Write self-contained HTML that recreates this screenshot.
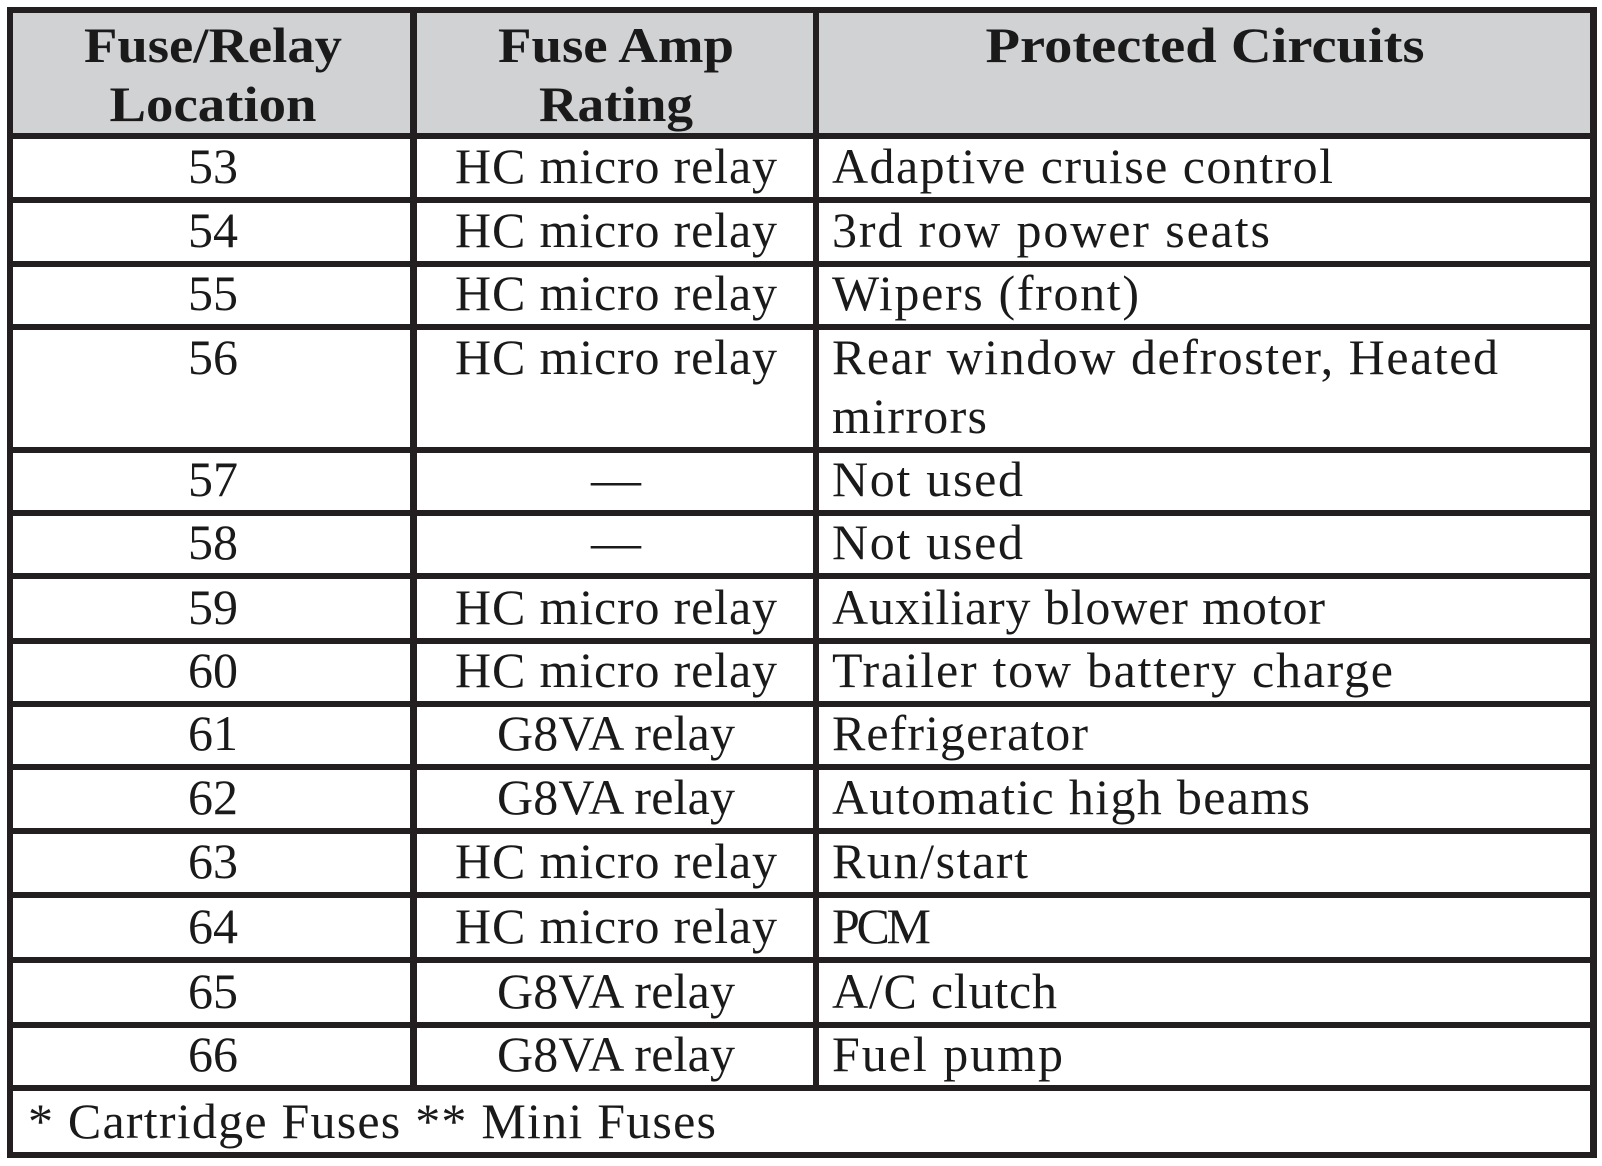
<!DOCTYPE html>
<html><head><meta charset="utf-8"><style>
html,body{margin:0;padding:0;background:#fff;}
svg{display:block;}
text{font-family:"Liberation Serif",serif;fill:#1a1a1a;}
</style></head><body>
<svg width="1602" height="1166" viewBox="0 0 1602 1166" xmlns="http://www.w3.org/2000/svg">
<rect x="0" y="0" width="1602" height="1166" fill="#fff"/>
<rect x="10" y="10" width="1583" height="126" fill="#d1d2d4"/>
<g fill="#231f20">
<rect x="7" y="7" width="1590" height="6"/>
<rect x="7" y="133" width="1590" height="6"/>
<rect x="7" y="197" width="1590" height="6"/>
<rect x="7" y="261" width="1590" height="6"/>
<rect x="7" y="324" width="1590" height="6"/>
<rect x="7" y="447" width="1590" height="6"/>
<rect x="7" y="510" width="1590" height="6"/>
<rect x="7" y="573" width="1590" height="6"/>
<rect x="7" y="638" width="1590" height="6"/>
<rect x="7" y="701" width="1590" height="6"/>
<rect x="7" y="764" width="1590" height="6"/>
<rect x="7" y="828" width="1590" height="6"/>
<rect x="7" y="892" width="1590" height="6"/>
<rect x="7" y="957" width="1590" height="6"/>
<rect x="7" y="1022" width="1590" height="6"/>
<rect x="7" y="1085" width="1590" height="6"/>
<rect x="7" y="1152" width="1590" height="6"/>
<rect x="7" y="7" width="6" height="1151"/>
<rect x="1590" y="7" width="7" height="1151"/>
<rect x="410" y="7" width="7" height="1081"/>
<rect x="813" y="7" width="6" height="1081"/>
</g>
<g font-weight="bold" font-size="50" text-anchor="middle">
<text x="213" y="62" textLength="258" lengthAdjust="spacingAndGlyphs">Fuse/Relay</text>
<text x="213" y="121" textLength="207" lengthAdjust="spacingAndGlyphs">Location</text>
<text x="616" y="62" textLength="236" lengthAdjust="spacingAndGlyphs">Fuse Amp</text>
<text x="616" y="121" textLength="154" lengthAdjust="spacingAndGlyphs">Rating</text>
<text x="1205" y="62" textLength="439" lengthAdjust="spacingAndGlyphs">Protected Circuits</text>
</g>
<g font-size="50" text-anchor="middle">
<text x="213" y="183">53</text>
<text x="213" y="247">54</text>
<text x="213" y="310">55</text>
<text x="213" y="374">56</text>
<text x="213" y="496">57</text>
<text x="213" y="559">58</text>
<text x="213" y="624">59</text>
<text x="213" y="687">60</text>
<text x="213" y="750">61</text>
<text x="213" y="814">62</text>
<text x="213" y="878">63</text>
<text x="213" y="943">64</text>
<text x="213" y="1008">65</text>
<text x="213" y="1071">66</text>
</g>
<g font-size="50" text-anchor="middle">
<text x="616" y="183" textLength="322" lengthAdjust="spacing">HC micro relay</text>
<text x="616" y="247" textLength="322" lengthAdjust="spacing">HC micro relay</text>
<text x="616" y="310" textLength="322" lengthAdjust="spacing">HC micro relay</text>
<text x="616" y="374" textLength="322" lengthAdjust="spacing">HC micro relay</text>
<text x="616" y="496">—</text>
<text x="616" y="559">—</text>
<text x="616" y="624" textLength="322" lengthAdjust="spacing">HC micro relay</text>
<text x="616" y="687" textLength="322" lengthAdjust="spacing">HC micro relay</text>
<text x="616" y="750" textLength="238" lengthAdjust="spacing">G8VA relay</text>
<text x="616" y="814" textLength="238" lengthAdjust="spacing">G8VA relay</text>
<text x="616" y="878" textLength="322" lengthAdjust="spacing">HC micro relay</text>
<text x="616" y="943" textLength="322" lengthAdjust="spacing">HC micro relay</text>
<text x="616" y="1008" textLength="238" lengthAdjust="spacing">G8VA relay</text>
<text x="616" y="1071" textLength="238" lengthAdjust="spacing">G8VA relay</text>
</g>
<g font-size="50">
<text x="832" y="183" textLength="501" lengthAdjust="spacing">Adaptive cruise control</text>
<text x="832" y="247" textLength="438" lengthAdjust="spacing">3rd row power seats</text>
<text x="832" y="310" textLength="307" lengthAdjust="spacing">Wipers (front)</text>
<text x="832" y="374" textLength="666" lengthAdjust="spacing">Rear window defroster, Heated</text>
<text x="832" y="433" textLength="155" lengthAdjust="spacing">mirrors</text>
<text x="832" y="496" textLength="191" lengthAdjust="spacing">Not used</text>
<text x="832" y="559" textLength="191" lengthAdjust="spacing">Not used</text>
<text x="832" y="624" textLength="493" lengthAdjust="spacing">Auxiliary blower motor</text>
<text x="832" y="687" textLength="561" lengthAdjust="spacing">Trailer tow battery charge</text>
<text x="832" y="750" textLength="256" lengthAdjust="spacing">Refrigerator</text>
<text x="832" y="814" textLength="478" lengthAdjust="spacing">Automatic high beams</text>
<text x="832" y="878" textLength="196" lengthAdjust="spacing">Run/start</text>
<text x="832" y="943" textLength="99" lengthAdjust="spacing">PCM</text>
<text x="832" y="1008" textLength="225" lengthAdjust="spacing">A/C clutch</text>
<text x="832" y="1071" textLength="231" lengthAdjust="spacing">Fuel pump</text>
</g>
<text x="28" y="1138" font-size="50" textLength="688" lengthAdjust="spacing">* Cartridge Fuses ** Mini Fuses</text>
</svg>
</body></html>
